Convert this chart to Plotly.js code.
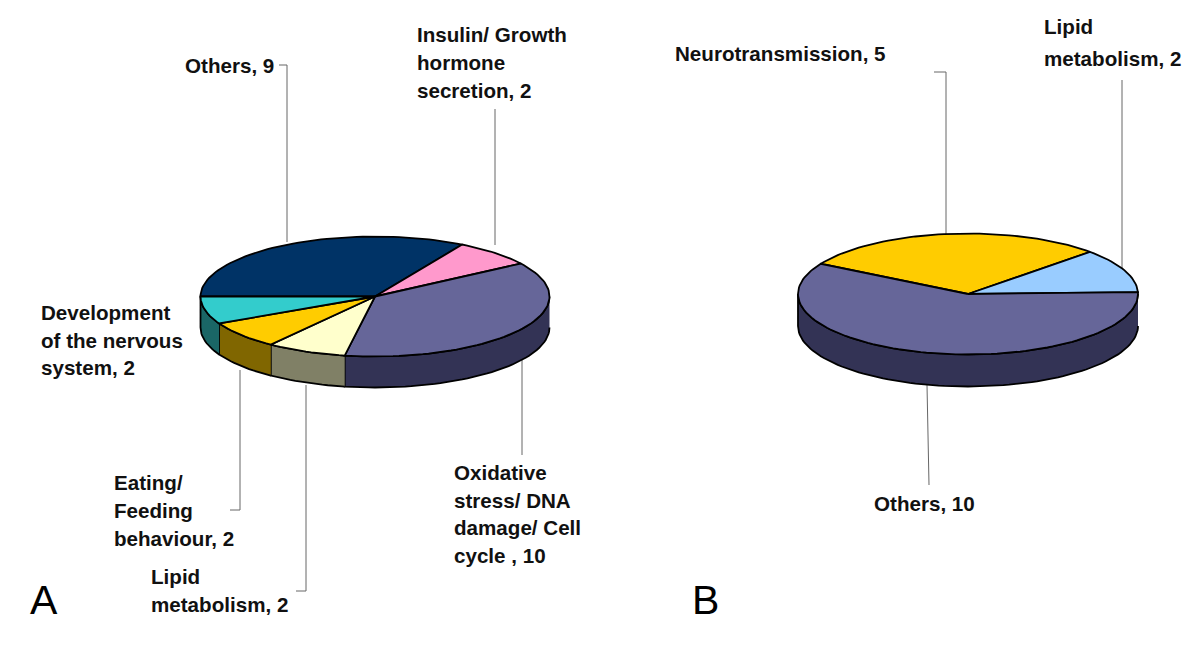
<!DOCTYPE html>
<html>
<head>
<meta charset="utf-8">
<script src="https://cdn.plot.ly/plotly-3.0.1.min.js"></script>
<style>html,body{margin:0;padding:0;background:#fff}#c{width:1200px;height:646px}</style>
</head>
<body>
<div id="c"></div>
<script>
// Data (clockwise order)
const categoriesA = ["Others", "Insulin/ Growth hormone secretion", "Oxidative stress/ DNA damage/ Cell cycle", "Lipid metabolism", "Eating/ Feeding behaviour", "Development of the nervous system"];
const valuesA = [9, 2, 10, 2, 2, 2];
const topColorsA = ["#003366", "#FF99CC", "#666699", "#FFFFCC", "#FFCC00", "#33CCCC"];
const sideColorsA = ["#001933", "#804D66", "#333355", "#808066", "#806600", "#1A6666"];

const categoriesB = ["Neurotransmission", "Lipid metabolism", "Others"];
const valuesB = [5, 2, 10];
const topColorsB = ["#FFCC00", "#99CCFF", "#666699"];
const sideColorsB = ["#806600", "#4D6680", "#333355"];

// Pie geometry: start is the clockwise angle from 12 o'clock of the first slice
const pieA = {cx: 375, cy: 296.5, rx: 174.5, ry: 60, depth: 31, start: 270};
const pieB = {cx: 968, cy: 294, rx: 170, ry: 60.5, depth: 32, start: 300};

// Text: [text, left x, middle y]
const labelLines = [
  ["Others, 9", 185, 65],
  ["Insulin/ Growth", 417, 34], ["hormone", 417, 62], ["secretion, 2", 417, 90],
  ["Development", 41, 312], ["of the nervous", 41, 340], ["system, 2", 41, 367],
  ["Eating/", 114, 482], ["Feeding", 114, 510], ["behaviour, 2", 114, 538],
  ["Lipid", 151, 576], ["metabolism, 2", 151, 604],
  ["Oxidative", 454, 472], ["stress/ DNA", 454, 500], ["damage/ Cell", 454, 527], ["cycle , 10", 454, 555],
  ["Neurotransmission, 5", 675, 53],
  ["Lipid", 1044, 26], ["metabolism, 2", 1044, 58],
  ["Others, 10", 874, 503]
];
const panelLetters = [["A", 31, 600], ["B", 693, 600]];

// Leader lines
const leaders = [
  [[279, 65], [287, 65], [287, 242]],
  [[495, 109], [495, 245]],
  [[522, 360], [522, 455]],
  [[240, 370], [240, 510], [230, 510]],
  [[306, 385], [306, 591], [296, 591]],
  [[934, 72], [946, 72], [946, 236]],
  [[1122, 80], [1122, 270]],
  [[927, 385], [929, 485]]
];

function pt(p, deg, drop) {
  const a = deg * Math.PI / 180;
  return [p.cx + p.rx * Math.sin(a), p.cy - p.ry * Math.cos(a) + (drop || 0)];
}
function arc(p, from, to, drop) {
  const out = [], n = Math.max(2, Math.ceil(Math.abs(to - from) / 2));
  for (let i = 0; i <= n; i++) out.push(pt(p, from + (to - from) * i / n, drop));
  return out;
}
function poly(points, color, name) {
  return {
    type: "scatter", mode: "lines", name: name,
    x: points.map(q => q[0]), y: points.map(q => q[1]),
    fill: "toself", fillcolor: color,
    line: {color: "#000000", width: 1.8},
    hoverinfo: "name", showlegend: false
  };
}
function pieTraces(p, names, values, tops, sides) {
  const total = values.reduce((s, v) => s + v, 0);
  const walls = [], faces = [];
  let a = p.start;
  values.forEach((v, i) => {
    const b = a + v / total * 360;
    // the visible rim is the front half: 90..270 degrees, modulo full turns
    [0, 360].forEach(k => {
      const lo = Math.max(a, 90 + k), hi = Math.min(b, 270 + k);
      if (hi > lo) {
        walls.push(poly(arc(p, lo, hi, 0).concat(arc(p, hi, lo, p.depth)), sides[i], names[i]));
      }
    });
    const face = [[p.cx, p.cy]].concat(arc(p, a, b, 0));
    face.push([p.cx, p.cy]);
    faces.push(poly(face, tops[i], names[i]));
    a = b;
  });
  return walls.concat(faces);
}

const leaderTraces = leaders.map(l => ({
  type: "scatter", mode: "lines",
  x: l.map(q => q[0]), y: l.map(q => q[1]),
  line: {color: "#666666", width: 1},
  hoverinfo: "skip", showlegend: false
}));

const data = leaderTraces
  .concat(pieTraces(pieA, categoriesA, valuesA, topColorsA, sideColorsA))
  .concat(pieTraces(pieB, categoriesB, valuesB, topColorsB, sideColorsB));

const ann = labelLines.map(l => ({
  text: "<b>" + l[0] + "</b>", x: l[1], y: l[2], xref: "x", yref: "y",
  xanchor: "left", yanchor: "middle", showarrow: false, align: "left",
  xshift: -2, font: {family: "Liberation Sans, Arial, sans-serif", size: 20.6, color: "#111111"}
})).concat(panelLetters.map(l => ({
  text: l[0], x: l[1], y: l[2], xref: "x", yref: "y",
  xanchor: "left", yanchor: "middle", showarrow: false, xshift: -3,
  font: {family: "Liberation Sans, Arial, sans-serif", size: 41, color: "#000000"}
})));

const hiddenAxis = {visible: false, fixedrange: true, showgrid: false, zeroline: false};
Plotly.newPlot("c", data, {
  width: 1200, height: 646,
  margin: {l: 0, r: 0, t: 0, b: 0},
  paper_bgcolor: "#ffffff", plot_bgcolor: "#ffffff",
  xaxis: Object.assign({range: [0, 1200]}, hiddenAxis),
  yaxis: Object.assign({range: [646, 0]}, hiddenAxis),
  showlegend: false,
  annotations: ann
}, {displayModeBar: false, staticPlot: false});
</script>
</body>
</html>
